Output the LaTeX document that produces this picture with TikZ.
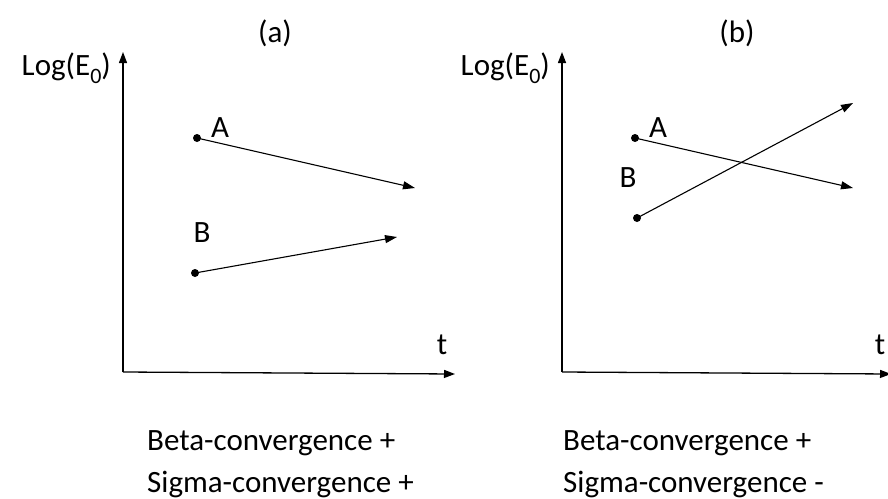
\documentclass[tikz,border=0pt]{standalone}
\usepackage{fontspec}
\setmainfont{Carlito}
\usetikzlibrary{arrows.meta, positioning}

\newcommand{\subnum}[1]{\raisebox{-0.26em}{\fontsize{22}{22}\selectfont #1}}

\begin{document}
\begin{tikzpicture}[x=1pt, y=-1pt,
			lab/.style={font=\fontsize{31}{36}\selectfont, inner sep=0pt},
			axis/.style={line width=1.3pt, -{Triangle[length=11pt, width=8pt]}},
			vec/.style={line width=1.1pt, -{Triangle[length=12pt, width=8pt]}},
			spot/.style={circle, fill=black, inner sep=0pt, minimum size=8pt}
			]
			\useasboundingbox (0,0) rectangle (888,498);
			% panel (a)
			\coordinate (oa) at (123,372);
			\coordinate (ya) at (123,52);
			\coordinate (xa) at (455,374);
			\node [lab, anchor=base east](logA) at (111,75) {Log(E\subnum{0})};
			\node [lab, anchor=base](titleA) at (275,42) {(a)};
			\node [lab, anchor=base](tA) at (442,354) {t};
			\node [spot](pa1) at (197,138) {};
			\node [spot](pb1) at (195,273) {};
			\coordinate (ea1) at (415,188);
			\coordinate (eb1) at (397,237);
			\node [lab, anchor=base west](la1) at (211,137) {A};
			\node [lab, anchor=base](lb1) at (202,242) {B};
			\node [lab, anchor=base west](betaA) at (147,450) {Beta-convergence +};
			\node [lab, anchor=base west](sigmaA) at (147,492) {Sigma-convergence +};
			% panel (b)
			\coordinate (ob) at (562,372);
			\coordinate (yb) at (562,52);
			\coordinate (xb) at (891,374);
			\node [lab, anchor=base east](logB) at (550,75) {Log(E\subnum{0})};
			\node [lab, anchor=base](titleB) at (737,42) {(b)};
			\node [lab, anchor=base](tB) at (880,354) {t};
			\node [spot](pa2) at (635,138) {};
			\node [spot](pb2) at (637,218) {};
			\coordinate (ea2) at (853,188);
			\coordinate (eb2) at (853,103);
			\node [lab, anchor=base west](la2) at (649,137) {A};
			\node [lab, anchor=base](lb2) at (628,187) {B};
			\node [lab, anchor=base west](betaB) at (563,450) {Beta-convergence +};
			\node [lab, anchor=base west](sigmaB) at (563,492) {Sigma-convergence -};

			\draw[axis] (oa) -- (ya);
			\draw[axis] (oa) -- (xa);
			\draw[axis] (ob) -- (yb);
			\draw[axis] (ob) -- (xb);
			\draw[vec] (pa1.center) -- (ea1);
			\draw[vec] (pb1.center) -- (eb1);
			\draw[vec] (pa2.center) -- (ea2);
			\draw[vec] (pb2.center) -- (eb2);
		\end{tikzpicture}
\end{document}
